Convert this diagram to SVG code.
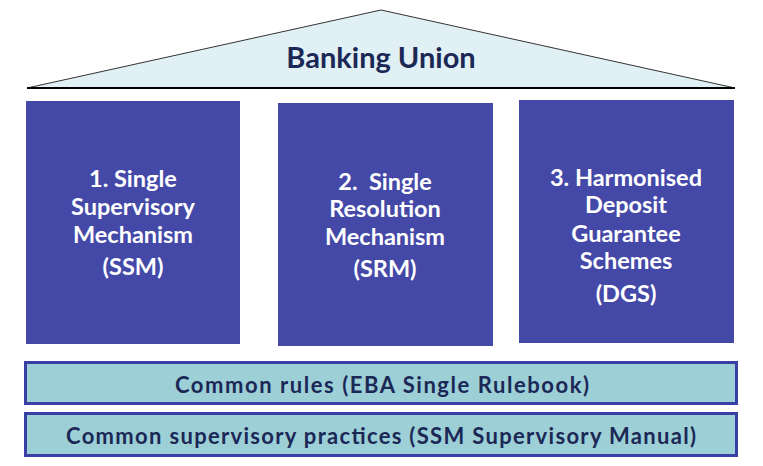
<svg xmlns="http://www.w3.org/2000/svg" width="763" height="466" viewBox="0 0 763 466">
<style>
.pillar{fill:#4449a8;}
.pt{font-family:Lato,"Open Sans","DejaVu Sans",sans-serif;font-weight:bold;font-size:23.5px;fill:#ffffff;text-anchor:middle;}
.bar{fill:#9ccfd6;stroke:#3a3fa6;stroke-width:3;}
.bt{font-family:Lato,"Open Sans","DejaVu Sans",sans-serif;font-weight:bold;font-size:22px;fill:#1b2856;text-anchor:middle;}
</style>
<rect width="763" height="466" fill="#ffffff"/>
<g id="roof">
<polygon points="27,88 381,10 735,88" fill="#e0f0f4" stroke="#333333" stroke-width="1"/>
<line x1="27" y1="88" x2="735" y2="88" stroke="#000000" stroke-width="2"/>
<text x="381" y="68" font-family="Lato,'Open Sans','DejaVu Sans',sans-serif" font-weight="bold" font-size="29" fill="#1b2856" text-anchor="middle">Banking Union</text>
</g>
<g id="ssm">
<rect class="pillar" x="26" y="101" width="214" height="243"/>
<text class="pt" x="133" y="187">1. Single</text>
<text class="pt" x="133" y="215">Supervisory</text>
<text class="pt" x="133" y="243">Mechanism</text>
<text class="pt" x="133" y="275">(SSM)</text>
</g>
<g id="srm">
<rect class="pillar" x="278" y="103" width="215" height="243"/>
<text class="pt" x="385" y="190" xml:space="preserve">2.  Single</text>
<text class="pt" x="385" y="217">Resolution</text>
<text class="pt" x="385" y="245">Mechanism</text>
<text class="pt" x="385" y="277">(SRM)</text>
</g>
<g id="dgs">
<rect class="pillar" x="519" y="100" width="215" height="243"/>
<text class="pt" x="626" y="186">3. Harmonised</text>
<text class="pt" x="626" y="213">Deposit</text>
<text class="pt" x="626" y="242">Guarantee</text>
<text class="pt" x="626" y="269">Schemes</text>
<text class="pt" x="626" y="302">(DGS)</text>
</g>
<g id="rules">
<rect class="bar" x="25.5" y="362.5" width="711" height="41"/>
<text class="bt" x="382" y="393" textLength="414" lengthAdjust="spacing">Common rules (EBA Single Rulebook)</text>
</g>
<g id="practices">
<rect class="bar" x="25.5" y="413.5" width="711" height="42"/>
<text class="bt" x="381" y="444" textLength="630" lengthAdjust="spacing">Common supervisory practices (SSM Supervisory Manual)</text>
</g>
<g id="connectors"></g>
</svg>
